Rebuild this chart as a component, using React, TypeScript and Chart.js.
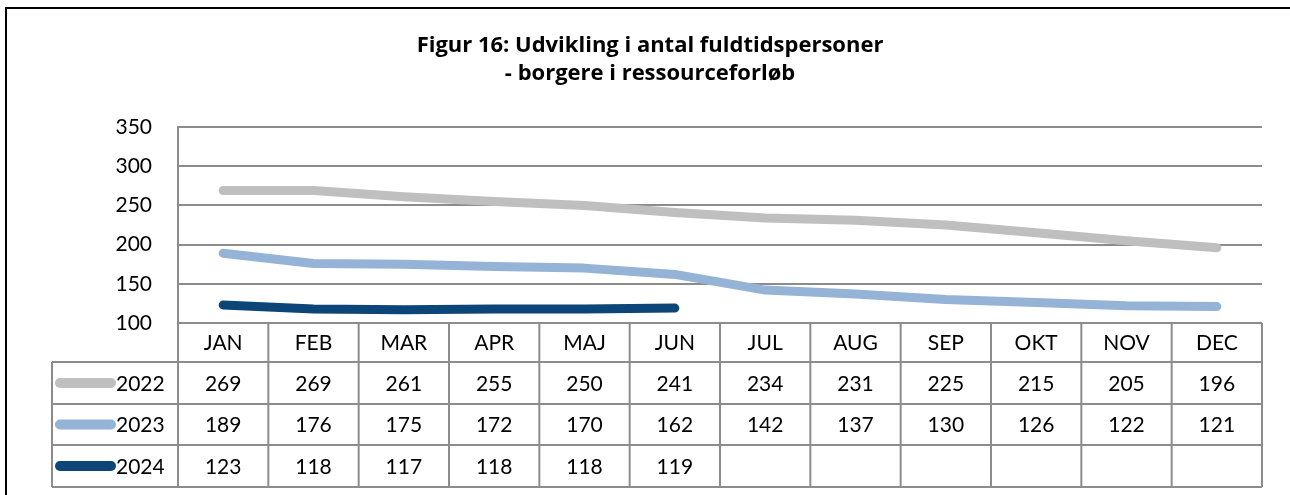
import React, { useEffect, useRef } from "react";
import { Chart, registerables } from "chart.js";

Chart.register(...registerables);

const titleLines = ["Figur 16: Udvikling i antal fuldtidspersoner", "- borgere i ressourceforløb"];
const months = ["JAN", "FEB", "MAR", "APR", "MAJ", "JUN", "JUL", "AUG", "SEP", "OKT", "NOV", "DEC"];
const seriesNames = ["2022", "2023", "2024"];
const values2022 = [269, 269, 261, 255, 250, 241, 234, 231, 225, 215, 205, 196];
const values2023 = [189, 176, 175, 172, 170, 162, 142, 137, 130, 126, 122, 121];
const values2024 = [123, 118, 117, 118, 118, 119, null, null, null, null, null, null];
const seriesColors = ["#BFBFBF", "#95B3D7", "#0C4577"];
const yTicks = [100, 150, 200, 250, 300, 350];

const FONT = "Lato, 'Open Sans', sans-serif";
const TFONT = "'Open Sans', Lato, sans-serif";

const tablePlugin = {
  id: "tablePlugin",
  afterDraw(chart: any) {
    const ctx = chart.ctx;
    const area = chart.chartArea;
    const xs = chart.scales.x;
    const left = area.left;
    const right = area.right;
    const colW = (right - left) / months.length;
    const top = area.bottom;
    const rowH = [39, 42, 41, 42];
    const rows: number[] = [top];
    rowH.forEach((h, i) => rows.push(rows[i] + h));
    const legendLeft = 52;
    ctx.save();
    // Outer border
    ctx.strokeStyle = "#000";
    ctx.lineWidth = 2;
    ctx.strokeRect(6, 8, 1300, 500);
    // Title
    ctx.fillStyle = "#000";
    ctx.textAlign = "center";
    ctx.textBaseline = "middle";
    let size = 21;
    ctx.font = `bold ${size}px ${TFONT}`;
    const w = ctx.measureText(titleLines[0]).width;
    size = Math.max(16, Math.min(26, size * (467 / w)));
    ctx.font = `bold ${size}px ${TFONT}`;
    ctx.fillText(titleLines[0], 650, 46);
    ctx.fillText(titleLines[1], 650, 74);
    // Table grid
    ctx.strokeStyle = "#8C8C8C";
    ctx.lineWidth = 2;
    ctx.beginPath();
    for (let i = 1; i < rows.length; i++) {
      ctx.moveTo(legendLeft, rows[i]);
      ctx.lineTo(right, rows[i]);
    }
    ctx.moveTo(legendLeft, rows[1]);
    ctx.lineTo(legendLeft, rows[4]);
    for (let c = 0; c <= months.length; c++) {
      const x = left + c * colW;
      ctx.moveTo(x, top);
      ctx.lineTo(x, rows[4]);
    }
    ctx.stroke();
    // Header
    ctx.font = `21px ${FONT}`;
    ctx.fillStyle = "#000";
    months.forEach((m, i) => {
      ctx.fillText(m, xs.getPixelForValue(i), (rows[0] + rows[1]) / 2 + 1);
    });
    const allVals = [values2022, values2023, values2024];
    allVals.forEach((vals, r) => {
      const cy = (rows[r + 1] + rows[r + 2]) / 2 + 1;
      vals.forEach((v, i) => {
        if (v !== null) ctx.fillText(String(v), xs.getPixelForValue(i), cy);
      });
      // legend
      ctx.strokeStyle = seriesColors[r];
      ctx.lineWidth = 10;
      ctx.lineCap = "round";
      ctx.beginPath();
      ctx.moveTo(60, cy - 1);
      ctx.lineTo(111, cy - 1);
      ctx.stroke();
      ctx.textAlign = "left";
      ctx.fillText(seriesNames[r], 116, cy);
      ctx.textAlign = "center";
    });
    ctx.restore();
  },
};

export default function App() {
  const ref = useRef<HTMLCanvasElement | null>(null);
  useEffect(() => {
    document.body.style.margin = "0";
    const canvas = ref.current!;
    const datasets = [values2022, values2023, values2024].map((vals, i) => ({
      label: seriesNames[i],
      data: vals,
      borderColor: seriesColors[i],
      backgroundColor: seriesColors[i],
      borderWidth: 9,
      borderCapStyle: "round" as const,
      borderJoinStyle: "round" as const,
      pointRadius: 0,
      tension: 0,
      spanGaps: false,
    }));
    const chart = new Chart(canvas, {
      type: "line",
      data: { labels: months, datasets },
      options: {
        responsive: false,
        animation: false,
        layout: { padding: { top: 127, right: 28, bottom: 172, left: 0 } },
        plugins: { legend: { display: false }, title: { display: false }, tooltip: { enabled: false } },
        scales: {
          x: {
            type: "category",
            offset: true,
            display: false,
            grid: { display: false },
          },
          y: {
            min: 100,
            max: 350,
            afterFit: (s: any) => {
              s.width = 178;
            },
            afterBuildTicks: (s: any) => {
              s.ticks = yTicks.map((v) => ({ value: v }));
            },
            ticks: {
              color: "#000",
              font: { family: FONT, size: 21 },
              padding: 26,
            },
            grid: { color: "#8C8C8C", lineWidth: 2, drawTicks: false },
            border: { display: true, color: "#8C8C8C", width: 2 },
          },
        },
      },
      plugins: [tablePlugin],
    });
    return () => chart.destroy();
  }, []);
  return <canvas ref={ref} width={1290} height={495} style={{ display: "block" }} />;
}
